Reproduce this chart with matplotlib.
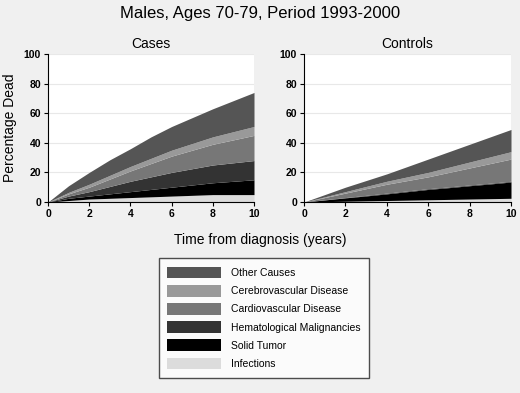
import numpy as np
import matplotlib
matplotlib.use("Agg")
import matplotlib.pyplot as plt
from matplotlib.patches import Patch

years = [0, 1, 2, 3, 4, 5, 6, 7, 8, 9, 10]
causes = ["Infections", "Solid Tumor", "Hematological Malignancies",
          "Cardiovascular Disease", "Cerebrovascular Disease", "Other Causes"]
colors = ["#dcdcdc", "#000000", "#333333", "#777777", "#999999", "#555555"]

# cumulative top of each band (percent dead)
cases_top = {
    "Infections":                 [0, 1.0, 2.0, 2.5, 3.0, 3.5, 4.0, 4.5, 5.0, 5.0, 5.0],
    "Solid Tumor":                [0, 2.5, 4.0, 5.5, 7.0, 8.5, 10.0, 11.5, 13.0, 14.0, 15.0],
    "Hematological Malignancies": [0, 4.0, 7.0, 10.5, 14.0, 17.0, 20.0, 22.5, 25.0, 26.5, 28.0],
    "Cardiovascular Disease":     [0, 5.5, 10.0, 15.5, 21.0, 26.0, 31.0, 35.0, 39.0, 42.0, 45.0],
    "Cerebrovascular Disease":    [0, 6.5, 12.0, 18.0, 24.0, 29.5, 35.0, 39.5, 44.0, 47.5, 51.0],
    "Other Causes":               [0, 11.0, 20.0, 28.5, 36.0, 44.0, 51.0, 57.0, 63.0, 68.5, 74.0],
}
controls_top = {
    "Infections":                 [0, 0.25, 0.5, 0.75, 1.0, 1.25, 1.5, 1.75, 2.0, 2.25, 2.5],
    "Solid Tumor":                [0, 1.4, 2.8, 4.1, 5.5, 7.0, 8.5, 9.7, 11.0, 12.2, 13.5],
    "Hematological Malignancies": [0, 1.5, 3.0, 4.5, 6.0, 7.5, 9.0, 10.2, 11.5, 12.7, 14.0],
    "Cardiovascular Disease":     [0, 3.0, 6.0, 9.0, 12.0, 14.5, 17.0, 20.0, 23.0, 26.0, 29.0],
    "Cerebrovascular Disease":    [0, 3.5, 7.0, 10.5, 14.0, 17.0, 20.0, 23.5, 27.0, 30.5, 34.0],
    "Other Causes":               [0, 5.0, 10.0, 14.5, 19.0, 24.0, 29.0, 34.0, 39.0, 44.0, 49.0],
}

BG = "#f0f0f0"
plt.rcParams["font.family"] = ["Liberation Sans", "DejaVu Sans"]

fig = plt.figure(figsize=(5.2, 3.93), dpi=100, facecolor=BG)
fig.suptitle("Males, Ages 70-79, Period 1993-2000", y=0.985, fontsize=12)


def panel(ax, tops, title):
    ax.set_facecolor("white")
    lower = np.zeros(len(years))
    for name, col in zip(causes, colors):
        upper = np.array(tops[name], dtype=float)
        ax.fill_between(years, lower, upper, color=col, lw=0)
        lower = upper
    ax.set_xlim(0, 10)
    ax.set_ylim(0, 100)
    ax.set_xticks(range(0, 11, 2))
    ax.set_yticks(range(0, 101, 20))
    ax.grid(axis="y", color="#e8e8e8", lw=0.8)
    ax.set_axisbelow(True)
    for s in ("top", "right"):
        ax.spines[s].set_visible(False)
    ax.tick_params(labelsize=7.5, length=3, width=0.8, pad=2)
    for lab in ax.get_xticklabels() + ax.get_yticklabels():
        lab.set_fontweight("bold")
    ax.set_title(title, fontsize=10, pad=4)


ax1 = fig.add_axes([48 / 520, 1 - 202 / 393, 206 / 520, 148 / 393])
ax2 = fig.add_axes([304 / 520, 1 - 202 / 393, 207 / 520, 148 / 393])
panel(ax1, cases_top, "Cases")
panel(ax2, controls_top, "Controls")
fig.text(10 / 520, 1 - 128 / 393, "Percentage Dead", rotation=90, ha="center",
         va="center", fontsize=10)
fig.text(0.5, 1 - 240 / 393, "Time from diagnosis (years)", ha="center",
         va="center", fontsize=10)

handles = [Patch(facecolor=c, edgecolor="none", label=n)
           for n, c in zip(causes[::-1], colors[::-1])]
leg = fig.legend(handles=handles, loc="center", bbox_to_anchor=(264 / 520, 1 - 318 / 393),
                 fontsize=7.5, frameon=True, fancybox=False, edgecolor="#222222",
                 handlelength=5.1, handleheight=1.35, labelspacing=0.62,
                 borderpad=0.8, handletextpad=1.0, borderaxespad=0)
leg.get_frame().set_linewidth(1.0)

fig.savefig("out.png", dpi=100, facecolor=BG)
